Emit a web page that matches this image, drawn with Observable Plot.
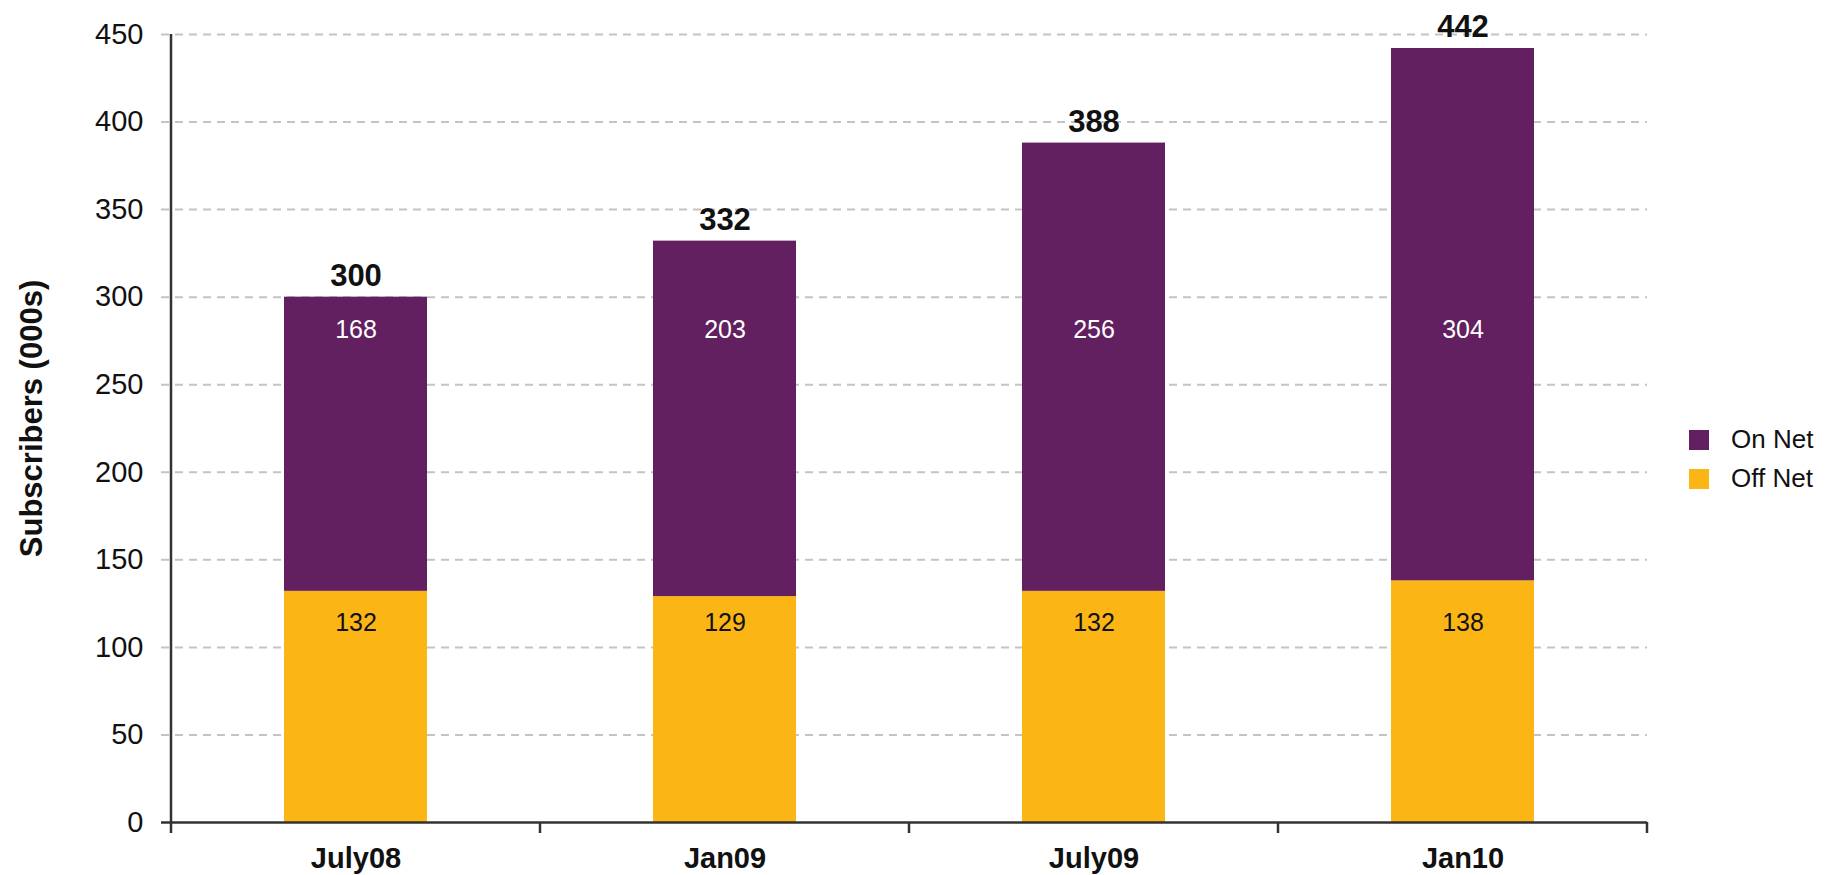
<!DOCTYPE html>
<html>
<head>
<meta charset="utf-8">
<script src="https://cdn.jsdelivr.net/npm/d3@7"></script>
<script src="https://cdn.jsdelivr.net/npm/@observablehq/plot@0.6"></script>
<style>
  html, body { margin: 0; padding: 0; background: #fff; }
  #wrap { position: relative; width: 1839px; height: 875px; font-family: "Liberation Sans", Arial, sans-serif; }
  #legend { position: absolute; left: 1689px; top: 420px; font-size: 26px; color: #111; }
  #legend .item { display: flex; align-items: center; height: 39px; }
  #legend .sw { width: 20px; height: 20px; margin-right: 22px; }
</style>
</head>
<body>
<div id="wrap">
  <div id="chart"></div>
  <div id="legend"></div>
</div>
<script>
const categories = ["July08", "Jan09", "July09", "Jan10"];
const offNet = [132, 129, 132, 138];
const onNet = [168, 203, 256, 304];
const totals = [300, 332, 388, 442];
const yTicks = [0, 50, 100, 150, 200, 250, 300, 350, 400, 450];
const seriesNames = ["On Net", "Off Net"];
const seriesColors = ["#622060", "#FBB615"];

const rows = [];
categories.forEach((c, i) => rows.push({cat: c, series: "Off Net", value: offNet[i]}));
categories.forEach((c, i) => rows.push({cat: c, series: "On Net", value: onNet[i]}));
const totalRows = categories.map((c, i) => ({cat: c, total: totals[i]}));
const offLabelRows = categories.map((c, i) => ({cat: c, value: offNet[i]}));
const onLabelRows = categories.map((c, i) => ({cat: c, value: onNet[i]}));
const offLevel = d3.min(offNet);
const onLevel = d3.min(totals);

const font = '"Liberation Sans", Arial, sans-serif';

const plot = Plot.plot({
  width: 1839,
  height: 875,
  marginLeft: 161,
  marginRight: 192,
  marginTop: 34,
  marginBottom: 53,
  style: {fontFamily: font, background: "#fff", overflow: "visible"},
  x: {domain: categories, paddingInner: 0.613, paddingOuter: 0.306, insetLeft: 9, label: null},
  y: {domain: [0, 450], label: null},
  color: {domain: seriesNames, range: seriesColors},
  marks: [
    Plot.gridY(yTicks.filter(d => d > 0), {stroke: "#c4c4c4", strokeOpacity: 1, strokeWidth: 2, strokeDasharray: "8,6"}),
    Plot.barY(rows, {x: "cat", y: "value", fill: "series"}),
    Plot.ruleY([0], {stroke: "#333", strokeWidth: 2.5}),
    Plot.text(offLabelRows, {x: "cat", y: () => offLevel, text: d => String(d.value), dy: 26, fill: "#111", fontSize: 25}),
    Plot.text(onLabelRows, {x: "cat", y: () => onLevel, text: d => String(d.value), dy: 33, fill: "#fff", fontSize: 25}),
    Plot.text(totalRows, {x: "cat", y: "total", text: d => String(d.total), dy: -21, fontSize: 31, fontWeight: "bold", fill: "#111"}),
    Plot.axisY({ticks: yTicks, tickSize: 0, tickPadding: 18, fontSize: 29, fill: "#111", label: null}),
    Plot.axisX({tickSize: 0, tickPadding: 25, fontSize: 29, fontWeight: "bold", fill: "#111", label: null}),
    Plot.text(["Subscribers (000s)"], {frameAnchor: "left", textAnchor: "middle", dx: -129, dy: -10, rotate: -90, fontSize: 31, fontWeight: "bold", fill: "#111"})
  ]
});

// Axis line and category boundary ticks derived from the plot's own scales
const xs = plot.scale("x");
const ys = plot.scale("y");
const step = xs.apply(categories[1]) - xs.apply(categories[0]);
const bw = xs.bandwidth;
const firstLeft = xs.apply(categories[0]) + bw / 2 - step / 2;
const y0 = ys.apply(0);
const yTop = ys.apply(450);
const g = d3.select(plot).append("g").attr("stroke", "#333").attr("stroke-width", 2.5);
g.append("line").attr("x1", firstLeft).attr("x2", firstLeft).attr("y1", yTop).attr("y2", y0 + 11);
categories.forEach((c, i) => {
  const bx = xs.apply(c) + bw / 2 + step / 2;
  g.append("line").attr("x1", bx).attr("x2", bx).attr("y1", y0).attr("y2", y0 + 11);
});

document.getElementById("chart").appendChild(plot);

const legend = document.getElementById("legend");
seriesNames.forEach((s, i) => {
  const item = document.createElement("div");
  item.className = "item";
  const sw = document.createElement("div");
  sw.className = "sw";
  sw.style.background = seriesColors[i];
  const lab = document.createElement("span");
  lab.textContent = s;
  item.appendChild(sw);
  item.appendChild(lab);
  legend.appendChild(item);
});
</script>
</body>
</html>
